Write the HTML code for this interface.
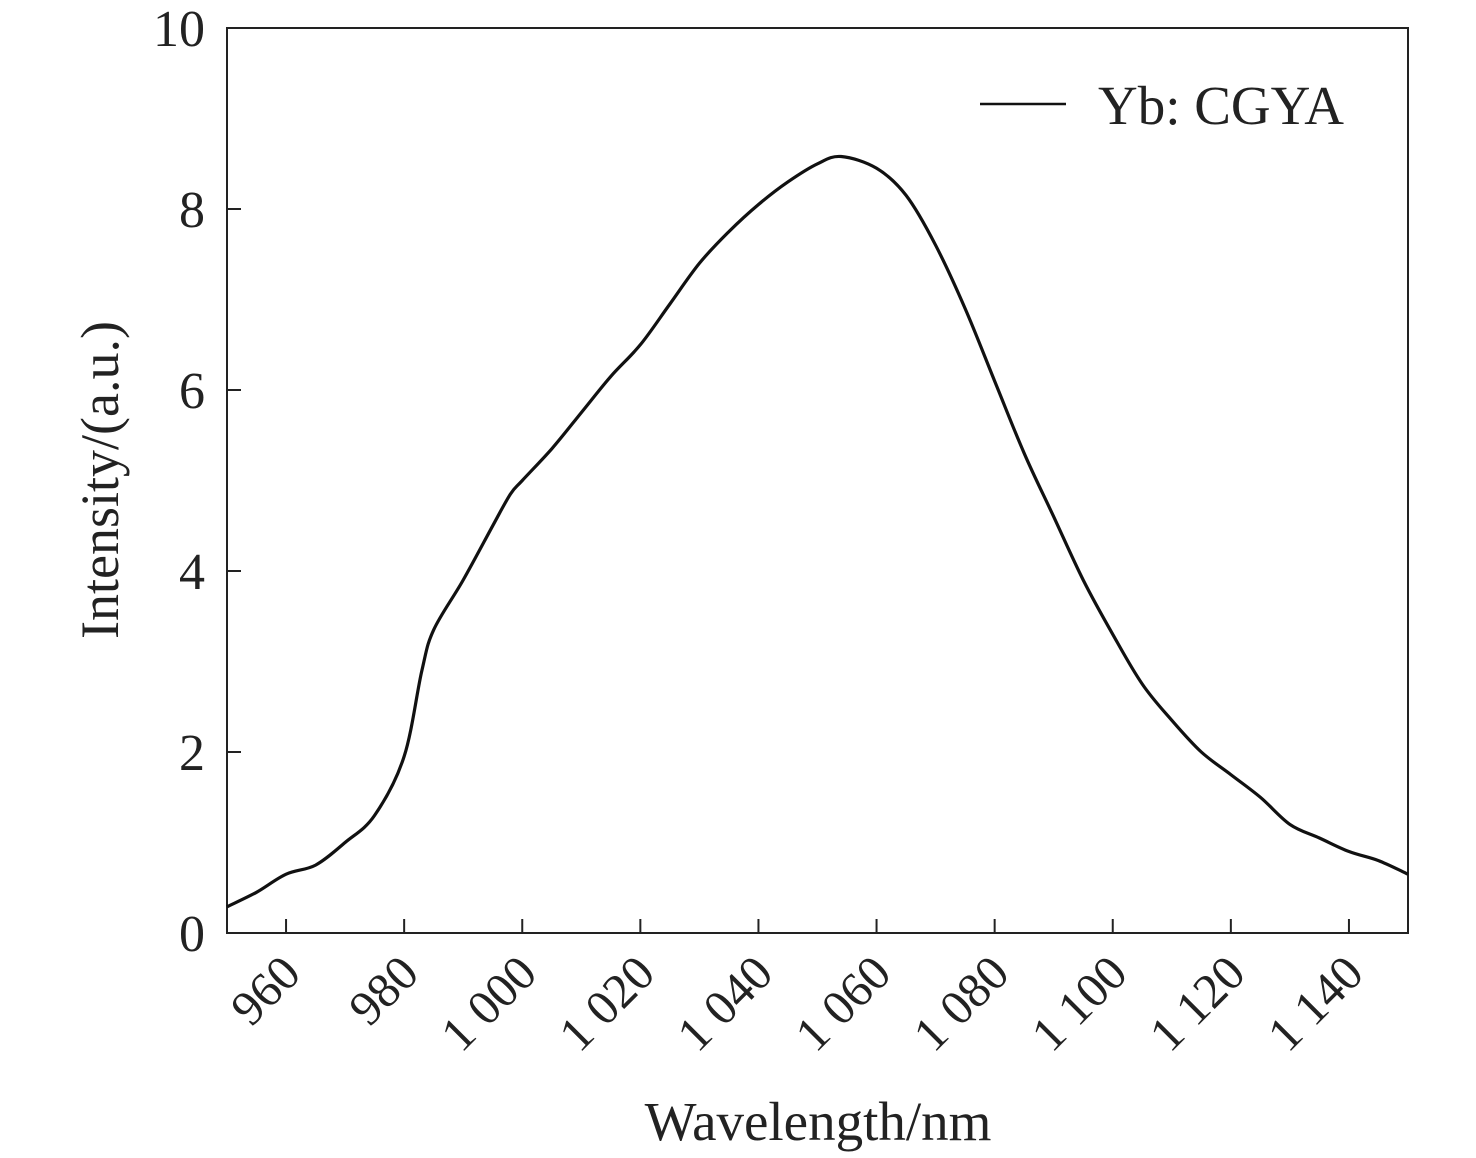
<!DOCTYPE html>
<html><head><meta charset="utf-8"><style>
html,body{margin:0;padding:0;background:#fff;}
svg{display:block;font-family:"Liberation Serif",serif;}
</style></head><body>
<svg id="chart" width="1476" height="1158" viewBox="0 0 1476 1158" xmlns="http://www.w3.org/2000/svg">
<rect x="227" y="28" width="1181" height="905" fill="none" stroke="#222" stroke-width="2"/>
<g id="xticks"></g>
<g id="yticks"></g>
<path id="curve" fill="none" stroke="#111" stroke-width="3.2" stroke-linejoin="round"/>
<g>
<line x1="980" y1="104" x2="1066" y2="104" stroke="#111" stroke-width="2.5"/>
<text x="1098" y="124" font-size="55" fill="#222">Yb: CGYA</text>
</g>
<text x="818" y="1140" font-size="55" text-anchor="middle" fill="#222">Wavelength/nm</text>
<text transform="translate(118,480) rotate(-90)" font-size="54" text-anchor="middle" fill="#222">Intensity/(a.u.)</text>
</svg>
<script>
const xTickValues=[960,980,1000,1020,1040,1060,1080,1100,1120,1140];
const xTickLabels=["960","980","1 000","1 020","1 040","1 060","1 080","1 100","1 120","1 140"];
const yTickValues=[0,2,4,6,8,10];
const yTickLabels=["0","2","4","6","8","10"];
const wavelengths=[950,955,960,965,970,975,980,983,985,990,995,998,1000,1005,1010,1015,1020,1025,1030,1035,1040,1045,1050,1054,1060,1065,1070,1075,1080,1085,1090,1095,1100,1105,1110,1115,1120,1125,1130,1135,1140,1145,1150];
const intensity=[0.29,0.45,0.65,0.75,1.0,1.3,1.95,2.9,3.35,3.9,4.5,4.85,5.0,5.35,5.75,6.15,6.5,6.95,7.4,7.75,8.05,8.3,8.5,8.58,8.45,8.15,7.6,6.9,6.1,5.3,4.6,3.9,3.3,2.75,2.35,2.0,1.75,1.5,1.2,1.05,0.9,0.8,0.65];
const X0=227,X1=1408,Y0=933,Y1=28,xmin=950,xmax=1150,ymin=0,ymax=10;
const sx=v=>X0+(v-xmin)/(xmax-xmin)*(X1-X0);
const sy=v=>Y0-(v-ymin)/(ymax-ymin)*(Y0-Y1);
const NS="http://www.w3.org/2000/svg";
const xg=document.getElementById('xticks'),yg=document.getElementById('yticks');
xTickValues.forEach((v,i)=>{
 const x=sx(v);
 const l=document.createElementNS(NS,'line');
 
 
 l.setAttribute('x1',x);l.setAttribute('x2',x);l.setAttribute('y1',Y0);l.setAttribute('y2',Y0-14);
 l.setAttribute('stroke','#222');l.setAttribute('stroke-width','2');xg.appendChild(l);
 const t=document.createElementNS(NS,'text');
 
 
 t.setAttribute('transform',`translate(${x-8},${Y0+18}) rotate(-45)`);
 t.setAttribute('text-anchor','end');t.setAttribute('font-size','49');t.setAttribute('fill','#222');
 t.setAttribute('dominant-baseline','hanging');
 t.textContent=xTickLabels[i];xg.appendChild(t);
});
yTickValues.forEach((v,i)=>{
 const y=sy(v);
 if(v>ymin&&v<ymax){
 const l=document.createElementNS(NS,'line');
 
 
 l.setAttribute('x1',X0);l.setAttribute('x2',X0+14);l.setAttribute('y1',y);l.setAttribute('y2',y);
 l.setAttribute('stroke','#222');l.setAttribute('stroke-width','2');yg.appendChild(l);}
 const t=document.createElementNS(NS,'text');
 
 
 t.setAttribute('x',X0-22);t.setAttribute('y',y+18);
 t.setAttribute('text-anchor','end');t.setAttribute('font-size','52');t.setAttribute('fill','#222');
 t.textContent=yTickLabels[i];yg.appendChild(t);
});
const pts=wavelengths.map((w,i)=>[sx(w),sy(intensity[i])]);
let d='M'+pts[0][0].toFixed(1)+' '+pts[0][1].toFixed(1);
for(let i=0;i<pts.length-1;i++){
 const p0=pts[Math.max(0,i-1)],p1=pts[i],p2=pts[i+1],p3=pts[Math.min(pts.length-1,i+2)];
 const c1=[p1[0]+(p2[0]-p0[0])/6,p1[1]+(p2[1]-p0[1])/6];
 const c2=[p2[0]-(p3[0]-p1[0])/6,p2[1]-(p3[1]-p1[1])/6];
 d+=` C${c1[0].toFixed(1)} ${c1[1].toFixed(1)} ${c2[0].toFixed(1)} ${c2[1].toFixed(1)} ${p2[0].toFixed(1)} ${p2[1].toFixed(1)}`;
}
document.getElementById('curve').setAttribute('d',d);
</script>
</body></html>
